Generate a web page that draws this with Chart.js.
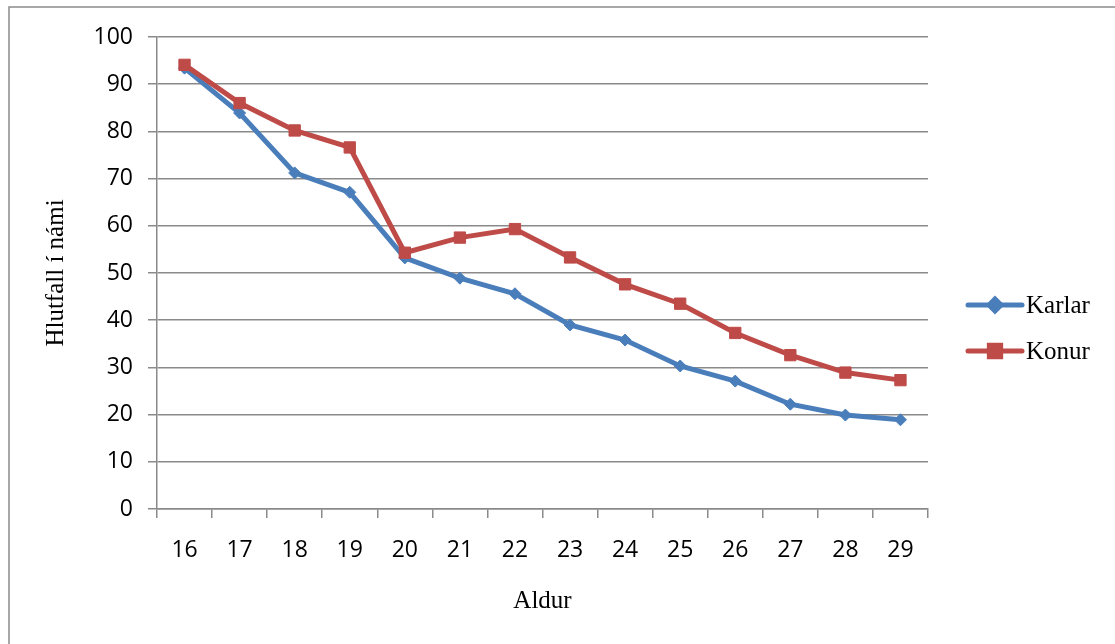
<!DOCTYPE html>
<html>
<head>
<meta charset="utf-8">
<script src="https://cdn.jsdelivr.net/npm/chart.js@4.4.1/dist/chart.umd.min.js"></script>
<style>
  html, body { margin: 0; padding: 0; background: #ffffff; }
  #wrap { position: absolute; left: 0; top: 0; width: 1115px; height: 644px; }
</style>
</head>
<body>
<div id="wrap"><canvas id="c" width="1115" height="644"></canvas></div>
<script>
const categories = ['16','17','18','19','20','21','22','23','24','25','26','27','28','29'];
const karlar = [93.4, 83.9, 71.2, 67.1, 53.2, 48.9, 45.6, 39.0, 35.8, 30.3, 27.1, 22.2, 19.9, 18.9];
const konur  = [94.1, 86.0, 80.2, 76.6, 54.3, 57.5, 59.3, 53.3, 47.6, 43.5, 37.3, 32.6, 28.9, 27.3];
const seriesNames = ['Karlar', 'Konur'];
const yTitle = 'Hlutfall í námi';
const xTitle = 'Aldur';

const BLUE = '#4a7ebb';
const RED = '#be4b48';
const GRID = '#8a8a8a';

const frame = {
  id: 'frame',
  beforeDraw(chart) {
    const ctx = chart.ctx;
    ctx.save();
    ctx.fillStyle = '#ffffff';
    ctx.fillRect(0, 0, chart.width, chart.height);
    ctx.strokeStyle = '#8c8c8c';
    ctx.lineWidth = 1.5;
    ctx.strokeRect(9, 7, 2000, 2000);
    ctx.restore();
  }
};

const customLegend = {
  id: 'customLegend',
  afterDraw(chart) {
    const ctx = chart.ctx;
    const items = [
      { name: seriesNames[0], color: BLUE, style: 'rectRot', r: 6, y: 305 },
      { name: seriesNames[1], color: RED, style: 'rect', r: 8, y: 351 }
    ];
    ctx.save();
    items.forEach(it => {
      ctx.strokeStyle = it.color;
      ctx.lineWidth = 5;
      ctx.lineCap = 'round';
      ctx.beginPath();
      ctx.moveTo(968, it.y);
      ctx.lineTo(1022, it.y);
      ctx.stroke();
      Chart.helpers.drawPoint(ctx, { pointStyle: it.style, radius: it.r, borderWidth: 1 }, 995, it.y);
      ctx.fillStyle = it.color;
      ctx.fill();
      ctx.fillStyle = '#000000';
      ctx.font = '25px "Liberation Serif", serif';
      ctx.textAlign = 'left';
      ctx.textBaseline = 'middle';
      ctx.fillText(it.name, 1026, it.y + 1);
    });
    ctx.restore();
  }
};

new Chart(document.getElementById('c'), {
  type: 'line',
  data: {
    labels: categories,
    datasets: [
      {
        label: seriesNames[0], data: karlar, order: 1,
        borderColor: BLUE, backgroundColor: BLUE, borderWidth: 5,
        pointStyle: 'rectRot', pointRadius: 6, pointBorderWidth: 1,
        pointBackgroundColor: BLUE, pointBorderColor: BLUE, tension: 0
      },
      {
        label: seriesNames[1], data: konur, order: 0,
        borderColor: RED, backgroundColor: RED, borderWidth: 5,
        pointStyle: 'rect', pointRadius: 8, pointBorderWidth: 1,
        pointBackgroundColor: RED, pointBorderColor: RED, tension: 0
      }
    ]
  },
  options: {
    responsive: false,
    animation: false,
    devicePixelRatio: 1,
    layout: { padding: { left: 0, top: 37, right: 187, bottom: 0 } },
    plugins: { legend: { display: false }, tooltip: { enabled: false } },
    scales: {
      x: {
        offset: true,
        grid: { display: true, drawOnChartArea: false, drawTicks: true, tickLength: 9, offset: true, color: GRID, lineWidth: 1.5 },
        border: { display: true, color: GRID, width: 1.5 },
        ticks: { color: '#000000', font: { family: '"Open Sans", sans-serif', size: 23 }, padding: 19, maxRotation: 0 },
        title: { display: true, text: xTitle, color: '#000000', font: { family: '"Liberation Serif", serif', size: 25 }, padding: { top: 0, bottom: 27.5 } },
        afterFit(scale) { scale.height = 135; }
      },
      y: {
        min: 0, max: 100,
        ticks: { stepSize: 10, color: '#000000', font: { family: '"Open Sans", sans-serif', size: 23 }, padding: 15 },
        grid: { color: GRID, lineWidth: 1.5, tickLength: 9, drawTicks: true },
        border: { display: true, color: GRID, width: 1.5 },
        title: { display: true, text: yTitle, color: '#000000', font: { family: '"Liberation Serif", serif', size: 25 }, padding: { top: 41.5, bottom: 0 } },
        afterFit(scale) { scale.width = 157; }
      }
    }
  },
  plugins: [frame, customLegend]
});
</script>
</body>
</html>
